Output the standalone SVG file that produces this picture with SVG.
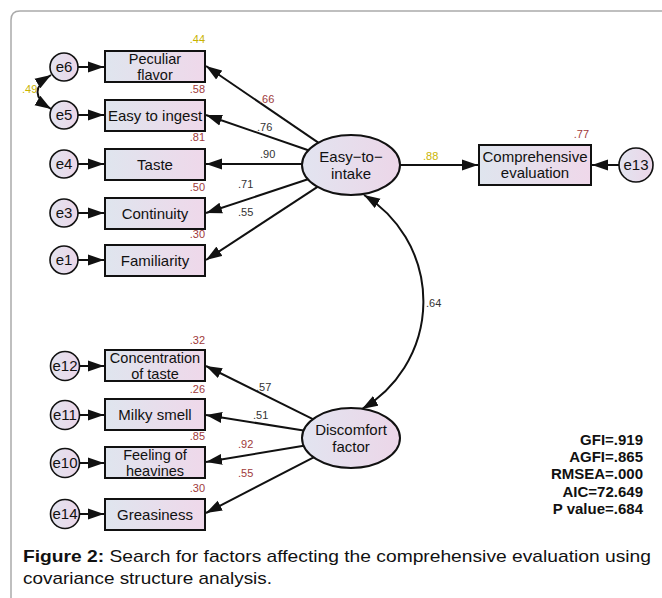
<svg xmlns="http://www.w3.org/2000/svg" width="662" height="598" viewBox="0 0 662 598">
<style>
text{font-family:"Liberation Sans",Arial,sans-serif;fill:#111}
.lbl{font-size:15px;text-anchor:middle}
.two{font-size:14.5px}
.box{fill:url(#g);stroke:#111;stroke-width:2}
.ell{fill:url(#g2);stroke:#111;stroke-width:2}
.err{fill:url(#g2);stroke:#111;stroke-width:1.6}
.con line,.con path{stroke:#111;stroke-width:2;fill:none}
.sm{font-size:11px}
.r2{font-size:11px;fill:#a03a3a;text-anchor:end}
.y{fill:#c9b300}
.m{fill:#a03a3a}
.d{fill:#333}
.st{font-size:15px;font-weight:bold;text-anchor:end}
.cap{font-size:17px}
</style>
<defs>
<linearGradient id="g" x1="0" y1="0" x2="1" y2="0">
<stop offset="0" stop-color="#dfe5ee"/><stop offset="1" stop-color="#efd8ea"/>
</linearGradient>
<linearGradient id="g2" x1="0" y1="0" x2="1" y2="0">
<stop offset="0" stop-color="#e2e4f0"/><stop offset="1" stop-color="#ecd6e8"/>
</linearGradient>
<marker id="a" markerUnits="userSpaceOnUse" markerWidth="17" markerHeight="12" viewBox="0 0 17 12" refX="16" refY="6" orient="auto-start-reverse">
<path d="M0,0.5 L16,6 L0,11.5 z" fill="#111"/>
</marker>
</defs>

<path d="M11,598 V20 Q11,11 20,11 H662" fill="none" stroke="#aaa" stroke-width="1.5"/>

<g class="con" id="connectors">
<line x1="78" y1="67" x2="104" y2="67" marker-end="url(#a)"/>
<line x1="78" y1="115" x2="104" y2="115" marker-end="url(#a)"/>
<line x1="78" y1="164" x2="104" y2="164" marker-end="url(#a)"/>
<line x1="78" y1="213" x2="104" y2="213" marker-end="url(#a)"/>
<line x1="78" y1="260" x2="104" y2="260" marker-end="url(#a)"/>
<line x1="79" y1="366" x2="104" y2="366" marker-end="url(#a)"/>
<line x1="79" y1="415" x2="104" y2="415" marker-end="url(#a)"/>
<line x1="79" y1="463" x2="104" y2="463" marker-end="url(#a)"/>
<line x1="79" y1="514" x2="104" y2="514" marker-end="url(#a)"/>
<path d="M51,75 Q24,92 51,109" marker-start="url(#a)" marker-end="url(#a)"/>
<line x1="318.3" y1="142.7" x2="206" y2="66" marker-end="url(#a)"/>
<line x1="308.3" y1="150.3" x2="206" y2="115" marker-end="url(#a)"/>
<line x1="302" y1="164" x2="206" y2="164" marker-end="url(#a)"/>
<line x1="307.9" y1="179.3" x2="206" y2="213" marker-end="url(#a)"/>
<line x1="317.5" y1="186.9" x2="206" y2="260" marker-end="url(#a)"/>
<line x1="312.9" y1="419.1" x2="206" y2="366" marker-end="url(#a)"/>
<line x1="303.6" y1="430.5" x2="206" y2="415" marker-end="url(#a)"/>
<line x1="303.7" y1="445.8" x2="206" y2="462" marker-end="url(#a)"/>
<line x1="313.6" y1="457.4" x2="206" y2="513" marker-end="url(#a)"/>
<line x1="400" y1="165" x2="478" y2="165" marker-end="url(#a)"/>
<line x1="619" y1="165" x2="592" y2="165" marker-end="url(#a)"/>
<path d="M364,195 A125,125 0 0 1 362,409" marker-start="url(#a)" marker-end="url(#a)"/>
</g>

<g id="e6"><circle class="err" cx="64" cy="67" r="14"/><text class="lbl" x="64" y="72">e6</text></g>
<g id="e5"><circle class="err" cx="64" cy="115" r="14"/><text class="lbl" x="64" y="120">e5</text></g>
<g id="e4"><circle class="err" cx="64" cy="164" r="14"/><text class="lbl" x="64" y="169">e4</text></g>
<g id="e3"><circle class="err" cx="64" cy="213" r="14"/><text class="lbl" x="64" y="218">e3</text></g>
<g id="e1"><circle class="err" cx="64" cy="260" r="14"/><text class="lbl" x="64" y="265">e1</text></g>
<g id="e12"><circle class="err" cx="65" cy="366" r="14.5"/><text class="lbl" x="65" y="371">e12</text></g>
<g id="e11"><circle class="err" cx="65" cy="415" r="14.5"/><text class="lbl" x="65" y="420">e11</text></g>
<g id="e10"><circle class="err" cx="65" cy="463" r="14.5"/><text class="lbl" x="65" y="468">e10</text></g>
<g id="e14"><circle class="err" cx="65" cy="514" r="14.5"/><text class="lbl" x="65" y="519">e14</text></g>
<g id="e13"><circle class="err" cx="636" cy="165" r="17"/><text class="lbl" x="636" y="170">e13</text></g>

<g id="peculiar"><rect class="box" x="105" y="51" width="100" height="31"/><text class="lbl two" x="155" y="64">Peculiar</text><text class="lbl two" x="155" y="80">flavor</text></g>
<g id="ingest"><rect class="box" x="105" y="100" width="100" height="31"/><text class="lbl" x="155" y="121">Easy to ingest</text></g>
<g id="taste"><rect class="box" x="105" y="149" width="100" height="31"/><text class="lbl" x="155" y="170">Taste</text></g>
<g id="continuity"><rect class="box" x="105" y="198" width="100" height="31"/><text class="lbl" x="155" y="219">Continuity</text></g>
<g id="familiarity"><rect class="box" x="105" y="245" width="100" height="31"/><text class="lbl" x="155" y="266">Familiarity</text></g>
<g id="concentration"><rect class="box" x="105" y="350" width="100" height="31"/><text class="lbl two" x="155" y="363">Concentration</text><text class="lbl two" x="155" y="379">of taste</text></g>
<g id="milky"><rect class="box" x="105" y="399" width="100" height="31"/><text class="lbl" x="155" y="420">Milky smell</text></g>
<g id="heaviness"><rect class="box" x="105" y="447" width="100" height="31"/><text class="lbl two" x="155" y="460">Feeling of</text><text class="lbl two" x="155" y="476">heavines</text></g>
<g id="greasiness"><rect class="box" x="105" y="499" width="100" height="31"/><text class="lbl" x="155" y="520">Greasiness</text></g>
<g id="comprehensive"><rect class="box" x="479" y="145" width="112" height="40"/><text class="lbl" x="535" y="162">Comprehensive</text><text class="lbl" x="535" y="178">evaluation</text></g>

<g id="easy-to-intake"><ellipse class="ell" cx="351" cy="165" rx="49" ry="30"/><text class="lbl" x="351" y="162">Easy−to−</text><text class="lbl" x="351" y="179">intake</text></g>
<g id="discomfort"><ellipse class="ell" cx="351" cy="438" rx="49" ry="30"/><text class="lbl" x="351" y="435">Discomfort</text><text class="lbl" x="351" y="452">factor</text></g>

<g id="labels">
<text class="r2 y" x="205" y="43">.44</text>
<text class="r2" x="205" y="93">.58</text>
<text class="r2" x="205" y="141">.81</text>
<text class="r2" x="205" y="191">.50</text>
<text class="r2" x="205" y="238">.30</text>
<text class="r2" x="205" y="344">.32</text>
<text class="r2" x="205" y="393">.26</text>
<text class="r2" x="205" y="440">.85</text>
<text class="r2" x="205" y="492">.30</text>
<text class="r2" x="589" y="138">.77</text>
<text class="sm y" x="22" y="93">.49</text>
<text class="sm m" x="259" y="103">.66</text>
<text class="sm d" x="257" y="131">.76</text>
<text class="sm d" x="260" y="158">.90</text>
<text class="sm d" x="238" y="188">.71</text>
<text class="sm d" x="238" y="216">.55</text>
<text class="sm d" x="256" y="391">.57</text>
<text class="sm d" x="253" y="419">.51</text>
<text class="sm m" x="238" y="448">.92</text>
<text class="sm m" x="238" y="477">.55</text>
<text class="sm y" x="423" y="160">.88</text>
<text class="sm d" x="426" y="307">.64</text>
</g>

<g id="stats">
<text class="st" x="643" y="445">GFI=.919</text>
<text class="st" x="643" y="462">AGFI=.865</text>
<text class="st" x="643" y="479">RMSEA=.000</text>
<text class="st" x="643" y="497">AIC=72.649</text>
<text class="st" x="643" y="514">P value=.684</text>
</g>

<g id="caption">
<text class="cap" x="23" y="562" textLength="628" lengthAdjust="spacingAndGlyphs"><tspan font-weight="bold">Figure 2:</tspan> Search for factors affecting the comprehensive evaluation using</text>
<text class="cap" x="23" y="584" textLength="249" lengthAdjust="spacingAndGlyphs">covariance structure analysis.</text>
</g>
</svg>
